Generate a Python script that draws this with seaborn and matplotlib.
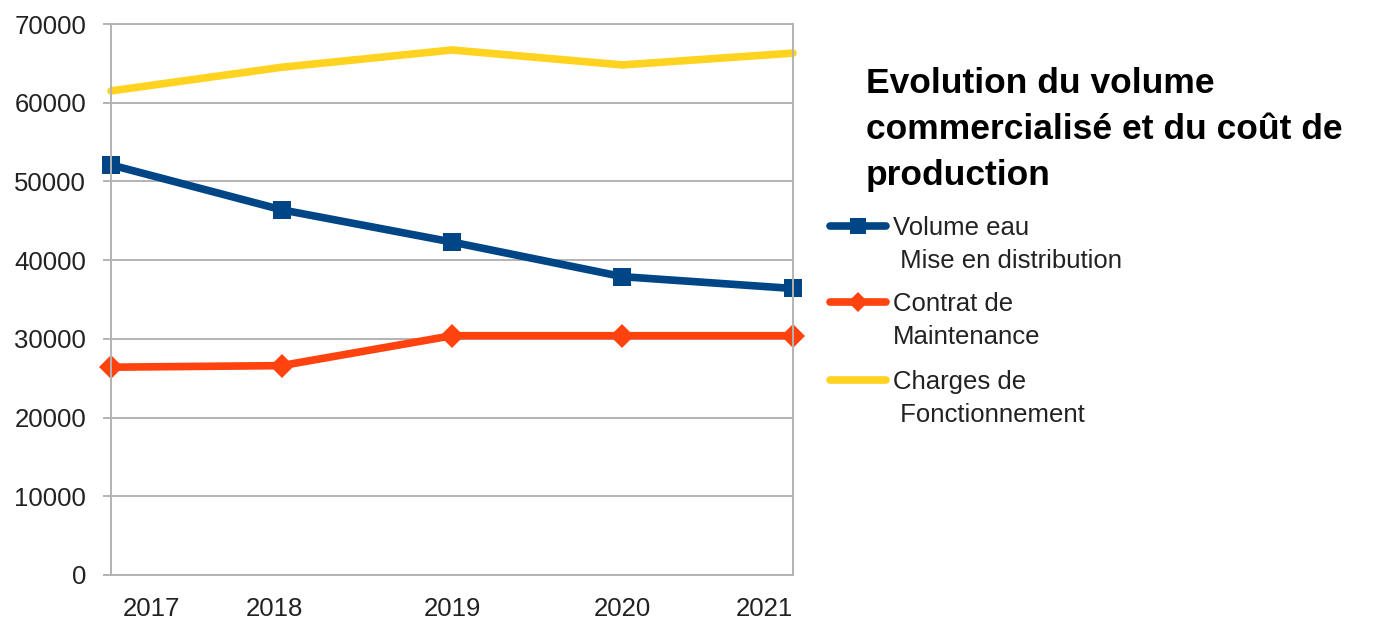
import numpy as np
import pandas as pd
import matplotlib
matplotlib.use("Agg")
import matplotlib.pyplot as plt
import seaborn as sns
from matplotlib.lines import Line2D

# ---- data ----
years = ["2017", "2018", "2019", "2020", "2021"]
volume_eau = [52100, 46400, 42300, 37900, 36400]
contrat_maintenance = [26400, 26600, 30400, 30400, 30400]
charges_fonctionnement = [61500, 64500, 66700, 64800, 66300]
series_labels = ["Volume eau\n Mise en distribution",
                 "Contrat de\nMaintenance",
                 "Charges de\n Fonctionnement"]
y_ticks = [0, 10000, 20000, 30000, 40000, 50000, 60000, 70000]
title = "Evolution du volume\ncommercialisé et du coût de\nproduction"

# ---- style ----
colors = ["#004586", "#ff420e", "#ffd320"]
markers = ["s", "D", None]
msizes = [13, 12, 0]

sns.set_theme(style="white")
plt.rcParams["font.family"] = ["Liberation Sans", "DejaVu Sans"]
txt_color = "#222222"
grid_color = "#b3b3b3"

W, H = 1383, 619
fig = plt.figure(figsize=(W / 100, H / 100), dpi=100)
ax = fig.add_axes([111 / W, 1 - 575 / H, (793 - 111) / W, (575 - 24) / H])

x = np.arange(len(years))
df = pd.DataFrame({
    "x": np.tile(x, 3),
    "value": volume_eau + contrat_maintenance + charges_fonctionnement,
    "series": np.repeat(series_labels, len(years)),
})

for lab, col, mk, ms in zip(series_labels, colors, markers, msizes):
    sub = df[df["series"] == lab]
    kw = dict(color=col, linewidth=5.5, ax=ax, legend=False, clip_on=False,
              solid_joinstyle="miter")
    if mk is not None:
        kw.update(marker=mk, markersize=ms, markeredgewidth=0, markeredgecolor=col)
    sns.lineplot(data=sub, x="x", y="value", **kw)

ax.set_xlim(0, len(years) - 1)
ax.set_ylim(0, 70000)
ax.set_yticks(y_ticks)
ax.set_yticklabels([str(v) for v in y_ticks])
# year labels as drawn in the reference (first/last pulled inside)
ax.set_xticks([0.235, 0.956, 2.0, 3.0, 3.835])
ax.set_xticklabels(years)
ax.set_xlabel("")
ax.set_ylabel("")
ax.grid(axis="y", color=grid_color, linewidth=1.4)
ax.grid(axis="x", visible=False)
ax.set_axisbelow(True)
for s in ax.spines.values():
    s.set_color(grid_color)
    s.set_linewidth(1.4)
ax.tick_params(axis="y", length=5.8, width=1.4, color=grid_color, pad=12,
               labelsize=18.5, labelcolor=txt_color, left=True)
ax.tick_params(axis="x", length=0, pad=16, labelsize=18.5, labelcolor=txt_color)

# ---- title ----
fig.text(866 / W, 1 - 67 / H, title, fontsize=25.5, fontweight="bold",
         color="black", ha="left", va="top", linespacing=1.5)

# ---- legend (handle aligned to first text line) ----
centers = [226, 302, 380]
for lab, col, mk, ms, yc in zip(series_labels, colors, markers, msizes, centers):
    yf = 1 - yc / H
    fig.add_artist(Line2D([830 / W, 886 / W], [yf, yf], color=col, linewidth=5.5,
                          transform=fig.transFigure))
    if mk is not None:
        fig.add_artist(Line2D([858 / W], [yf], color=col, marker=mk,
                              markersize=ms * 0.85, markeredgewidth=0,
                              linestyle="none", transform=fig.transFigure))
    fig.text(893 / W, 1 - (yc - 10) / H, lab, fontsize=18.5, color=txt_color,
             ha="left", va="top", linespacing=1.5)

fig.savefig("out.png", dpi=100)
